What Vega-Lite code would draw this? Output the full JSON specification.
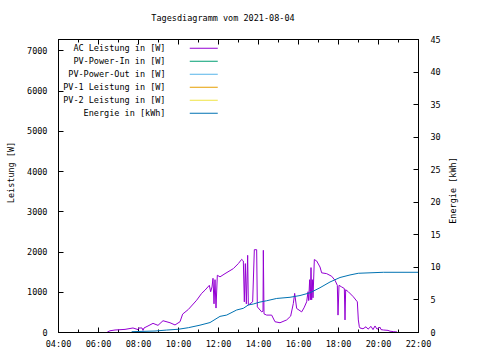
{
  "$schema": "https://vega.github.io/schema/vega-lite/v6.json",
  "width": 360,
  "height": 293,
  "autosize": {"type": "none"},
  "padding": {"left": 58, "top": 39, "right": 62, "bottom": 28},
  "background": "white",
  "title": {"text": "Tagesdiagramm vom 2021-08-04", "font": "DejaVu Sans Mono", "fontSize": 8.5, "fontWeight": "normal", "color": "black", "offset": 13, "dx": -15},
  "config": {
    "view": {"stroke": "black", "strokeWidth": 1},
    "axis": {"labelFont": "DejaVu Sans Mono", "labelFontSize": 8.5, "labelColor": "black", "titleFont": "DejaVu Sans Mono", "titleFontSize": 8.5, "titleFontWeight": "normal", "titleColor": "black", "domainColor": "black", "tickColor": "black", "grid": false, "labelOverlap": false}
  },
  "datasets": {
    "ac": [
      {"t": "06:28", "W": 0}, {"t": "06:36", "W": 30}, {"t": "06:51", "W": 50}, {"t": "07:21", "W": 65},
      {"t": "07:45", "W": 100}, {"t": "08:00", "W": 60}, {"t": "08:03", "W": 100}, {"t": "08:12", "W": 100},
      {"t": "08:15", "W": 40}, {"t": "08:18", "W": 100}, {"t": "08:30", "W": 150}, {"t": "08:45", "W": 215},
      {"t": "09:00", "W": 165}, {"t": "09:15", "W": 280}, {"t": "09:36", "W": 230}, {"t": "09:51", "W": 175},
      {"t": "10:06", "W": 255}, {"t": "10:14", "W": 445}, {"t": "10:31", "W": 560}, {"t": "10:56", "W": 790},
      {"t": "11:11", "W": 960}, {"t": "11:21", "W": 1040}, {"t": "11:34", "W": 1160}, {"t": "11:38", "W": 1000},
      {"t": "11:42", "W": 1120}, {"t": "11:45", "W": 1335}, {"t": "11:48", "W": 700}, {"t": "11:51", "W": 1300},
      {"t": "11:54", "W": 595}, {"t": "11:58", "W": 1410}, {"t": "12:06", "W": 1370}, {"t": "12:21", "W": 1450},
      {"t": "12:46", "W": 1575}, {"t": "13:01", "W": 1700}, {"t": "13:11", "W": 1805}, {"t": "13:16", "W": 1765},
      {"t": "13:19", "W": 750}, {"t": "13:22", "W": 1700}, {"t": "13:25", "W": 700}, {"t": "13:29", "W": 1905},
      {"t": "13:31", "W": 670}, {"t": "13:44", "W": 750}, {"t": "13:49", "W": 2045}, {"t": "13:56", "W": 2045},
      {"t": "13:58", "W": 625}, {"t": "14:11", "W": 500}, {"t": "14:15", "W": 520}, {"t": "14:16", "W": 2030},
      {"t": "14:18", "W": 450}, {"t": "14:26", "W": 420}, {"t": "14:41", "W": 420}, {"t": "14:51", "W": 255},
      {"t": "15:06", "W": 230}, {"t": "15:26", "W": 300}, {"t": "15:38", "W": 395}, {"t": "15:46", "W": 710},
      {"t": "15:50", "W": 960}, {"t": "15:56", "W": 585}, {"t": "16:11", "W": 500}, {"t": "16:18", "W": 600},
      {"t": "16:26", "W": 750}, {"t": "16:30", "W": 1000}, {"t": "16:32", "W": 780}, {"t": "16:35", "W": 1300},
      {"t": "16:37", "W": 800}, {"t": "16:39", "W": 1600}, {"t": "16:41", "W": 800}, {"t": "16:43", "W": 1300},
      {"t": "16:45", "W": 850}, {"t": "16:49", "W": 1800}, {"t": "16:56", "W": 1765}, {"t": "17:06", "W": 1615},
      {"t": "17:11", "W": 1470}, {"t": "17:26", "W": 1450}, {"t": "17:41", "W": 1385}, {"t": "17:51", "W": 1285},
      {"t": "17:58", "W": 1160}, {"t": "18:00", "W": 420}, {"t": "18:03", "W": 1160}, {"t": "18:11", "W": 1120},
      {"t": "18:19", "W": 1080}, {"t": "18:21", "W": 300}, {"t": "18:23", "W": 1050}, {"t": "18:31", "W": 1000},
      {"t": "18:46", "W": 875}, {"t": "18:58", "W": 750}, {"t": "19:01", "W": 300}, {"t": "19:04", "W": 130},
      {"t": "19:06", "W": 100}, {"t": "19:15", "W": 80}, {"t": "19:24", "W": 130}, {"t": "19:30", "W": 70},
      {"t": "19:39", "W": 140}, {"t": "19:45", "W": 60}, {"t": "19:51", "W": 150}, {"t": "19:57", "W": 70},
      {"t": "20:06", "W": 120}, {"t": "20:09", "W": 60}, {"t": "20:16", "W": 50}, {"t": "20:30", "W": 40},
      {"t": "20:36", "W": 20}, {"t": "20:46", "W": 10}, {"t": "20:57", "W": 0}
    ],
    "en": [
      {"t": "07:41", "kWh": 0.05}, {"t": "08:51", "kWh": 0.15}, {"t": "09:26", "kWh": 0.3}, {"t": "10:01", "kWh": 0.42},
      {"t": "10:31", "kWh": 0.66}, {"t": "11:06", "kWh": 1.05}, {"t": "11:36", "kWh": 1.45}, {"t": "12:06", "kWh": 2.4},
      {"t": "12:26", "kWh": 2.6}, {"t": "12:56", "kWh": 3.38}, {"t": "13:16", "kWh": 3.64}, {"t": "13:31", "kWh": 4.15},
      {"t": "13:46", "kWh": 4.3}, {"t": "14:06", "kWh": 4.6}, {"t": "14:26", "kWh": 4.8}, {"t": "14:56", "kWh": 5.15},
      {"t": "15:36", "kWh": 5.33}, {"t": "16:06", "kWh": 5.6}, {"t": "16:36", "kWh": 6.02}, {"t": "17:06", "kWh": 6.8},
      {"t": "17:36", "kWh": 7.68}, {"t": "18:06", "kWh": 8.37}, {"t": "18:36", "kWh": 8.76}, {"t": "19:01", "kWh": 9.02},
      {"t": "20:16", "kWh": 9.17}, {"t": "22:00", "kWh": 9.17}
    ]
  },
  "layer": [
    {
      "data": {"name": "ac", "format": {"parse": {"t": "date:'%H:%M'"}}},
      "mark": {"type": "line", "strokeWidth": 1, "clip": true},
      "encoding": {
        "x": {"field": "t", "type": "temporal",
          "scale": {"domain": [{"year": 1900, "month": 1, "date": 1, "hours": 4}, {"year": 1900, "month": 1, "date": 1, "hours": 22}]},
          "axis": {"orient": "bottom", "title": null,
            "values": [{"year": 1900, "month": 1, "date": 1, "hours": 4}, {"year": 1900, "month": 1, "date": 1, "hours": 5}, {"year": 1900, "month": 1, "date": 1, "hours": 6}, {"year": 1900, "month": 1, "date": 1, "hours": 7}, {"year": 1900, "month": 1, "date": 1, "hours": 8}, {"year": 1900, "month": 1, "date": 1, "hours": 9}, {"year": 1900, "month": 1, "date": 1, "hours": 10}, {"year": 1900, "month": 1, "date": 1, "hours": 11}, {"year": 1900, "month": 1, "date": 1, "hours": 12}, {"year": 1900, "month": 1, "date": 1, "hours": 13}, {"year": 1900, "month": 1, "date": 1, "hours": 14}, {"year": 1900, "month": 1, "date": 1, "hours": 15}, {"year": 1900, "month": 1, "date": 1, "hours": 16}, {"year": 1900, "month": 1, "date": 1, "hours": 17}, {"year": 1900, "month": 1, "date": 1, "hours": 18}, {"year": 1900, "month": 1, "date": 1, "hours": 19}, {"year": 1900, "month": 1, "date": 1, "hours": 20}, {"year": 1900, "month": 1, "date": 1, "hours": 21}, {"year": 1900, "month": 1, "date": 1, "hours": 22}],
            "labelExpr": "hours(datum.value) % 2 == 0 ? timeFormat(datum.value, '%H:%M') : ''",
            "tickSize": {"condition": {"test": "hours(datum.value) % 2 == 0", "value": -5}, "value": -3},
            "labelPadding": 12, "labelFlush": false}},
        "y": {"field": "W", "type": "quantitative",
          "scale": {"domain": [0, 7280], "nice": false},
          "axis": {"orient": "left", "values": [0, 1000, 2000, 3000, 4000, 5000, 6000, 7000], "format": "d", "tickSize": -5, "labelPadding": 16,
            "title": "Leistung [W]", "titleX": -48, "titleY": 133, "titleAngle": 270, "titleAlign": "center", "titleBaseline": "middle"}},
        "color": {"datum": "AC Leistung in [W]", "type": "nominal",
          "scale": {"domain": ["AC Leistung in [W]", "PV-Power-In in [W]", "PV-Power-Out in [W]", "PV-1 Leistung in [W]", "PV-2 Leistung in [W]", "Energie in [kWh]"],
            "range": ["#9400d3", "#009e73", "#56b4e9", "#e69f00", "#f0e442", "#0072b2"]},
          "legend": {"orient": "none", "legendX": 141.5, "legendY": 5, "title": null, "padding": 0,
            "symbolType": "M-14,0H14", "symbolSize": 4, "symbolStrokeWidth": 1,
            "labelAlign": "right", "labelOffset": -42.5, "labelFont": "DejaVu Sans Mono", "labelFontSize": 8.5, "labelColor": "black", "labelLimit": 0, "rowPadding": 4}}
      }
    },
    {
      "data": {"name": "en", "format": {"parse": {"t": "date:'%H:%M'"}}},
      "mark": {"type": "line", "strokeWidth": 1, "clip": true},
      "encoding": {
        "x": {"field": "t", "type": "temporal",
          "axis": {"orient": "top", "title": null, "labels": false,
            "values": [{"year": 1900, "month": 1, "date": 1, "hours": 4}, {"year": 1900, "month": 1, "date": 1, "hours": 5}, {"year": 1900, "month": 1, "date": 1, "hours": 6}, {"year": 1900, "month": 1, "date": 1, "hours": 7}, {"year": 1900, "month": 1, "date": 1, "hours": 8}, {"year": 1900, "month": 1, "date": 1, "hours": 9}, {"year": 1900, "month": 1, "date": 1, "hours": 10}, {"year": 1900, "month": 1, "date": 1, "hours": 11}, {"year": 1900, "month": 1, "date": 1, "hours": 12}, {"year": 1900, "month": 1, "date": 1, "hours": 13}, {"year": 1900, "month": 1, "date": 1, "hours": 14}, {"year": 1900, "month": 1, "date": 1, "hours": 15}, {"year": 1900, "month": 1, "date": 1, "hours": 16}, {"year": 1900, "month": 1, "date": 1, "hours": 17}, {"year": 1900, "month": 1, "date": 1, "hours": 18}, {"year": 1900, "month": 1, "date": 1, "hours": 19}, {"year": 1900, "month": 1, "date": 1, "hours": 20}, {"year": 1900, "month": 1, "date": 1, "hours": 21}, {"year": 1900, "month": 1, "date": 1, "hours": 22}],
            "tickSize": {"condition": {"test": "hours(datum.value) % 2 == 0", "value": -5}, "value": -3}}},
        "y": {"field": "kWh", "type": "quantitative",
          "scale": {"domain": [0, 45], "nice": false},
          "axis": {"orient": "right", "values": [0, 5, 10, 15, 20, 25, 30, 35, 40, 45], "tickSize": -5, "labelPadding": 17,
            "title": "Energie [kWh]", "titleX": 34.5, "titleY": 151, "titleAngle": 270, "titleAlign": "center", "titleBaseline": "middle"}},
        "color": {"datum": "Energie in [kWh]", "type": "nominal"}
      }
    }
  ],
  "resolve": {"scale": {"y": "independent"}, "axis": {"x": "independent", "y": "independent"}}
}
